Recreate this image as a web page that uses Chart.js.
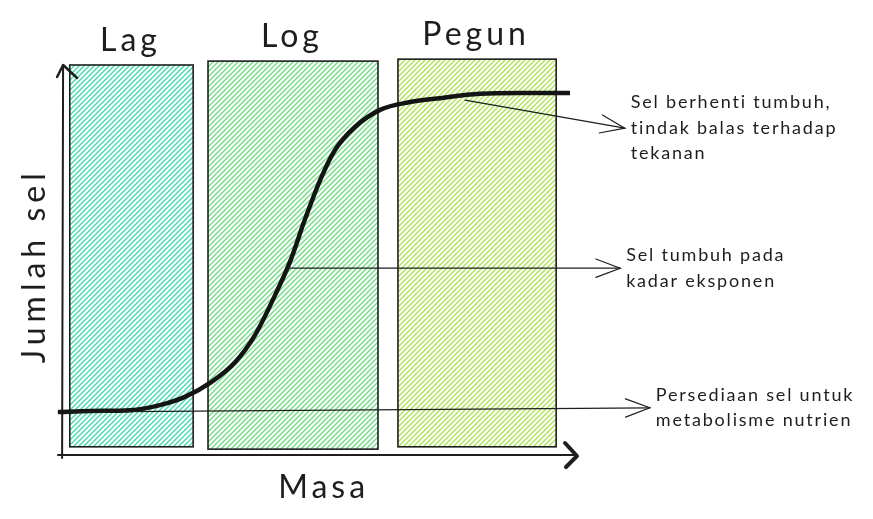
<!DOCTYPE html>
<html>
<head>
<meta charset="utf-8">
<script src="https://cdn.jsdelivr.net/npm/chart.js@4"></script>
<style>
  html, body { margin: 0; padding: 0; background: #ffffff; }
  #wrap { width: 873px; height: 519px; position: relative; }
</style>
</head>
<body>
<div id="wrap"><canvas id="c"></canvas></div>
<script>
// ---- data ----
const phaseNames = ["Lag", "Log", "Pegun"];
const phaseStart = [2.3, 29.3, 66.4];
const phaseEnd = [26.4, 62.5, 97.3];
const phaseBottom = [2.1, 1.5, 2.1];
const phaseTop = [100, 101, 101.5];
const phaseColors = ["#38d9a9", "#69db7c", "#a9e34b"];

const curveX = [0, 6.3, 14.1, 19.9, 24.8, 29.7, 34.6, 38.5, 42.4, 45.3, 48.2, 51.2, 54.1, 58.0, 62.9, 68.8, 74.6, 82.4, 90.2, 100];
const curveY = [11.0, 11.3, 11.5, 12.8, 14.9, 18.5, 23.8, 30.8, 41.0, 49.5, 60.3, 70.5, 78.2, 84.1, 88.5, 90.5, 91.5, 92.6, 92.8, 92.8];

const noteLines = [
  ["Sel berhenti tumbuh,", "tindak balas terhadap", "tekanan"],
  ["Sel tumbuh pada", "kadar eksponen"],
  ["Persediaan sel untuk", "metabolisme nutrien"]
];
const noteFromX = [79.5, 45.3, 0];
const noteFromY = [91.0, 47.9, 11.0];
const noteToX = [110.7, 109.8, 115.6];
const noteToY = [83.8, 47.9, 12.1];

const xTitle = "Masa";
const yTitle = "Jumlah sel";

// ---- helpers ----
function hatch(color) {
  const s = 5;
  const c = document.createElement("canvas");
  c.width = s; c.height = s;
  const g = c.getContext("2d");
  g.strokeStyle = color;
  g.lineWidth = 1.4;
  g.beginPath();
  g.moveTo(-1, s + 1); g.lineTo(s + 1, -1);
  g.moveTo(-1, 1); g.lineTo(1, -1);
  g.moveTo(s - 1, s + 1); g.lineTo(s + 1, s - 1);
  g.stroke();
  return g.createPattern(c, "repeat");
}

const FONT = "Lato, 'Open Sans', sans-serif";

const sketchPlugin = {
  id: "sketch",
  beforeDatasetsDraw(chart) {
    const ctx = chart.ctx;
    const xs = chart.scales.x, ys = chart.scales.y;
    ctx.save();
    for (let i = 0; i < phaseNames.length; i++) {
      const x0 = xs.getPixelForValue(phaseStart[i]);
      const x1 = xs.getPixelForValue(phaseEnd[i]);
      const y0 = ys.getPixelForValue(phaseTop[i]);
      const y1 = ys.getPixelForValue(phaseBottom[i]);
      ctx.fillStyle = hatch(phaseColors[i]);
      ctx.globalAlpha = 0.95;
      ctx.fillRect(x0, y0, x1 - x0, y1 - y0);
      ctx.globalAlpha = 1;
      ctx.strokeStyle = "#1e1e1e";
      ctx.lineWidth = 1.6;
      ctx.strokeRect(x0, y0, x1 - x0, y1 - y0);
      // phase title
      ctx.fillStyle = "#1e1e1e";
      ctx.font = "32px " + FONT;
      ctx.letterSpacing = "4px";
      ctx.textAlign = "center";
      ctx.textBaseline = "alphabetic";
      ctx.fillText(phaseNames[i], (x0 + x1) / 2 - 1, y0 - 14);
    }
    // axes
    const ca = chart.chartArea;
    const ax = xs.getPixelForValue(0.8);
    const ay = ys.getPixelForValue(0);
    ctx.letterSpacing = "0px";
    ctx.strokeStyle = "#1e1e1e";
    ctx.lineCap = "round";
    ctx.lineJoin = "round";
    ctx.lineWidth = 2;
    ctx.beginPath();
    ctx.moveTo(ax, ay + 3); ctx.lineTo(ax + 1, ca.top);
    ctx.stroke();
    ctx.lineWidth = 2.5;
    ctx.beginPath();
    ctx.moveTo(ax - 5, ca.top + 12); ctx.lineTo(ax + 1, ca.top); ctx.lineTo(ax + 15, ca.top + 13);
    ctx.stroke();
    ctx.lineWidth = 2;
    ctx.beginPath();
    ctx.moveTo(ca.left, ay); ctx.lineTo(ca.right + 6, ay);
    ctx.stroke();
    ctx.lineWidth = 4;
    ctx.beginPath();
    ctx.moveTo(ca.right - 5, ay - 12); ctx.lineTo(ca.right + 7, ay + 1); ctx.lineTo(ca.right - 4, ay + 12);
    ctx.stroke();
    // axis titles
    ctx.fillStyle = "#1e1e1e";
    ctx.font = "32px " + FONT;
    ctx.letterSpacing = "4px";
    ctx.textAlign = "center";
    ctx.textBaseline = "middle";
    ctx.fillText(xTitle, xs.getPixelForValue(51.5) + 2, ay + 33);
    ctx.save();
    ctx.translate(ax - 27, ys.getPixelForValue(48));
    ctx.rotate(-Math.PI / 2);
    ctx.letterSpacing = "5px";
    ctx.fillText(yTitle, 2, 0);
    ctx.restore();
    ctx.restore();
  },
  afterDatasetsDraw(chart) {
    const ctx = chart.ctx;
    const xs = chart.scales.x, ys = chart.scales.y;
    ctx.save();
    ctx.strokeStyle = "#1e1e1e";
    ctx.fillStyle = "#1e1e1e";
    ctx.lineCap = "round";
    for (let i = 0; i < noteLines.length; i++) {
      const fx = xs.getPixelForValue(noteFromX[i]);
      const fy = ys.getPixelForValue(noteFromY[i]);
      const tx = xs.getPixelForValue(noteToX[i]);
      const ty = ys.getPixelForValue(noteToY[i]);
      ctx.lineWidth = 1.2;
      ctx.beginPath();
      ctx.moveTo(fx, fy); ctx.lineTo(tx, ty);
      ctx.stroke();
      const ang = Math.atan2(ty - fy, tx - fx);
      const L = 26, a = 0.36;
      ctx.beginPath();
      ctx.moveTo(tx - L * Math.cos(ang - a), ty - L * Math.sin(ang - a));
      ctx.lineTo(tx, ty);
      ctx.lineTo(tx - L * Math.cos(ang + a), ty - L * Math.sin(ang + a));
      ctx.stroke();
      ctx.font = "18px " + FONT;
      ctx.letterSpacing = "1.8px";
      ctx.textAlign = "left";
      ctx.textBaseline = "middle";
      const lines = noteLines[i];
      const lh = 25.5;
      const startY = ty - (i === 0 ? lh : lh / 2);
      for (let k = 0; k < lines.length; k++) {
        ctx.fillText(lines[k], tx + 6, startY + k * lh);
      }
    }
    ctx.restore();
  }
};

new Chart(document.getElementById("c"), {
  type: "line",
  data: {
    datasets: [{
      data: curveX.map((x, i) => ({ x: x, y: curveY[i] })),
      borderColor: "#141414",
      borderWidth: 4.5,
      pointRadius: 0,
      tension: 0.4,
      cubicInterpolationMode: "monotone",
      fill: false
    }]
  },
  options: {
    responsive: true,
    maintainAspectRatio: false,
    animation: false,
    events: [],
    layout: { padding: { left: 58, right: 303, top: 65, bottom: 64 } },
    plugins: { legend: { display: false }, tooltip: { enabled: false } },
    scales: {
      x: { type: "linear", min: 0, max: 100, display: false },
      y: { type: "linear", min: 0, max: 100, display: false }
    },
    clip: false
  },
  plugins: [sketchPlugin]
});
</script>
</body>
</html>
